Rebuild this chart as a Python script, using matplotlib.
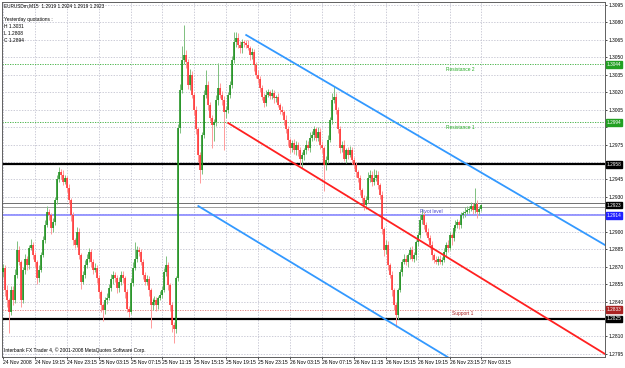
import numpy as np
import matplotlib as mpl
mpl.use('Agg')
from matplotlib import pyplot as plt
import matplotlib.transforms as mtransforms

mpl.rcParams.update({'font.family': ['Liberation Sans', 'DejaVu Sans'],
                     'font.size': 4})

# EURUSDm M15 closes (first bar 24 Nov 15:15)
first_open = 1.2865
closes = [
    1.2869, 1.2850, 1.2841, 1.2831, 1.2850, 1.2841, 1.2863, 1.2884, 1.2874, 1.2841,
    1.2867, 1.2877, 1.2871, 1.2886, 1.2889, 1.2880, 1.2874, 1.2860, 1.2867, 1.2880,
    1.2893, 1.2906, 1.2917, 1.2914, 1.2903, 1.2908, 1.2927, 1.2945, 1.2951, 1.2949,
    1.2943, 1.2946, 1.2938, 1.2927, 1.2914, 1.2893, 1.2889, 1.2900, 1.2880, 1.2857,
    1.2863, 1.2871, 1.2877, 1.2883, 1.2874, 1.2867, 1.2869, 1.2860, 1.2848, 1.2837,
    1.2833, 1.2841, 1.2843, 1.2852, 1.2859, 1.2863, 1.2860, 1.2852, 1.2857, 1.2863,
    1.2860, 1.2848, 1.2834, 1.2831, 1.2856, 1.2869, 1.2877, 1.2884, 1.2883, 1.2874,
    1.2863, 1.2857, 1.2859, 1.2850, 1.2837, 1.2840, 1.2841, 1.2837, 1.2843, 1.2846,
    1.2850, 1.2865, 1.2871, 1.2854, 1.2837, 1.2820, 1.2816, 1.2860, 1.2989, 1.3022,
    1.3048, 1.3052, 1.3046, 1.3026, 1.3035, 1.3018, 1.3005, 1.2988, 1.2966, 1.2953,
    1.2983, 1.3018, 1.3026, 1.3009, 1.2998, 1.2992, 1.2994, 1.3013, 1.3024, 1.3018,
    1.3013, 1.3003, 1.3005, 1.3018, 1.3026, 1.3048, 1.3063, 1.3067, 1.3061, 1.3058,
    1.3063, 1.3062, 1.3061, 1.3058, 1.3052, 1.3055, 1.3043, 1.3035, 1.3031, 1.3024,
    1.3016, 1.3011, 1.3018, 1.3020, 1.3017, 1.3019, 1.3015, 1.3016, 1.3009, 1.3005,
    1.3003, 1.2996, 1.2988, 1.2979, 1.2972, 1.2976, 1.2970, 1.2975, 1.2970, 1.2963,
    1.2966, 1.2970, 1.2975, 1.2972, 1.2981, 1.2983, 1.2988, 1.2981, 1.2986, 1.2975,
    1.2972, 1.2957, 1.2962, 1.2979, 1.2996, 1.3013, 1.3016, 1.3005, 1.2988, 1.2972,
    1.2975, 1.2963, 1.2970, 1.2966, 1.2970, 1.2962, 1.2957, 1.2951, 1.2946, 1.2936,
    1.2929, 1.2923, 1.2927, 1.2946, 1.2949, 1.2943, 1.2946, 1.2949, 1.2940, 1.2932,
    1.2902, 1.2884, 1.2889, 1.2871, 1.2863, 1.2850, 1.2837, 1.2828, 1.2850, 1.2865,
    1.2874, 1.2877, 1.2874, 1.2880, 1.2884, 1.2877, 1.2880, 1.2891, 1.2897, 1.2910,
    1.2914, 1.2906, 1.2900, 1.2895, 1.2889, 1.2880, 1.2876, 1.2874, 1.2877, 1.2874,
    1.2876, 1.2883, 1.2889, 1.2886, 1.2897, 1.2895, 1.2903, 1.2906, 1.2908, 1.2906,
    1.2914, 1.2916, 1.2917, 1.2919, 1.2920, 1.2922, 1.2919, 1.2924, 1.2917, 1.2920,
    1.2923,
]
# wick lengths in pips above / below the candle body
up_wick = [
    3, 2, 4, 2, 3, 3, 5, 8, 4, 2,
    3, 4, 2, 3, 5, 2, 3, 2, 4, 3,
    3, 4, 5, 3, 2, 4, 3, 4, 5, 3,
    4, 3, 2, 3, 2, 3, 2, 4, 3, 2,
    3, 5, 4, 3, 2, 3, 4, 2, 3, 2,
    2, 3, 4, 3, 5, 3, 2, 3, 4, 3,
    3, 2, 3, 2, 4, 5, 14, 4, 3, 2,
    3, 2, 4, 3, 2, 3, 4, 3, 2, 3,
    3, 4, 8, 3, 2, 3, 2, 2, 4, 5,
    12, 26, 4, 3, 5, 3, 2, 3, 2, 3,
    3, 4, 13, 4, 3, 2, 3, 5, 21, 4,
    3, 4, 3, 2, 4, 3, 9, 5, 4, 3,
    3, 2, 3, 4, 2, 3, 2, 3, 4, 3,
    2, 3, 4, 3, 2, 4, 3, 2, 3, 2,
    3, 2, 4, 3, 2, 3, 4, 3, 2, 3,
    3, 2, 4, 3, 5, 4, 3, 2, 4, 3,
    3, 2, 3, 4, 3, 6, 9, 3, 2, 3,
    3, 4, 2, 3, 4, 3, 2, 3, 2, 3,
    2, 3, 4, 5, 4, 3, 8, 4, 3, 2,
    3, 2, 4, 3, 2, 3, 2, 3, 2, 3,
    3, 4, 3, 2, 3, 4, 3, 2, 3, 5,
    6, 3, 2, 3, 2, 3, 2, 3, 2, 3,
    2, 3, 2, 4, 3, 2, 3, 4, 3, 2,
    3, 2, 4, 3, 2, 4, 3, 14, 3, 2, 1,
]
lo_wick = [
    4, 5, 6, 18, 3, 4, 2, 3, 3, 6,
    2, 3, 4, 3, 2, 3, 4, 5, 3, 2,
    2, 3, 2, 4, 5, 3, 2, 3, 2, 4,
    3, 2, 4, 3, 5, 4, 3, 2, 3, 6,
    2, 3, 2, 3, 4, 3, 2, 4, 5, 6,
    10, 4, 3, 2, 3, 4, 3, 5, 4, 3,
    4, 5, 3, 4, 2, 3, 2, 3, 4, 3,
    4, 3, 3, 5, 20, 4, 3, 5, 3, 2,
    3, 2, 3, 4, 5, 6, 12, 3, 2, 4,
    3, 4, 5, 3, 4, 3, 5, 4, 6, 11,
    3, 2, 3, 4, 3, 20, 14, 3, 4, 3,
    4, 33, 5, 3, 3, 2, 3, 4, 3, 4,
    4, 3, 3, 2, 4, 3, 5, 3, 3, 4,
    3, 4, 3, 2, 3, 3, 4, 3, 2, 4,
    3, 4, 3, 5, 4, 3, 3, 4, 5, 6,
    8, 4, 3, 2, 3, 3, 4, 3, 3, 4,
    4, 22, 4, 3, 2, 3, 2, 4, 3, 4,
    3, 2, 4, 3, 2, 4, 3, 4, 3, 4,
    3, 4, 3, 2, 3, 4, 3, 2, 3, 4,
    4, 5, 3, 4, 3, 5, 4, 10, 3, 2,
    3, 2, 3, 4, 3, 2, 3, 4, 3, 2,
    3, 4, 3, 2, 3, 4, 3, 2, 3, 2,
    3, 2, 5, 3, 2, 6, 3, 2, 3, 4,
    3, 2, 3, 2, 3, 2, 4, 3, 5, 3, 2,
]

time_labels = ["24 Nov 2008", "24 Nov 19:15", "24 Nov 23:15", "25 Nov 03:15",
               "25 Nov 07:15", "25 Nov 11:15", "25 Nov 15:15", "25 Nov 19:15",
               "25 Nov 23:15", "26 Nov 03:15", "26 Nov 07:15", "26 Nov 11:15",
               "26 Nov 15:15", "26 Nov 19:15", "26 Nov 23:15", "27 Nov 03:15"]
price_ticks = np.round(np.arange(1.2795, 1.30951, 0.0015), 4)

# pivot levels and channel lines (bar index, price)
resistance2 = 1.3044
resistance1 = 1.2994
pivot = 1.2914
support1 = 1.2833
black_levels = [1.2958, 1.2825]
bid_lines = [1.2925, 1.2921]
last_price = 1.2923
red_channel = ([113, 302], [1.29935, 1.27949])
blue_upper = ([122, 302], [1.30692, 1.28886])
blue_lower = ([98, 223], [1.29221, 1.27923])

pip = 0.0001
closes = np.array(closes)
opens = np.r_[first_open, closes[:-1]]
highs = np.maximum(opens, closes) + np.array(up_wick) * pip
lows = np.minimum(opens, closes) - np.array(lo_wick) * pip
idx = np.arange(len(closes))
bull = closes >= opens

fig = plt.figure(figsize=(6.25, 3.68), dpi=100)
ax = fig.add_axes([2 / 625, 11 / 368, 603 / 625, 355 / 368])
ax.set_xlim(-0.5, 302)
ax.set_ylim(1.27923, 1.30976)

# grid
for t in price_ticks:
    ax.axhline(t, color='#b8b8c8', lw=0.5, ls=(0, (2, 2)), zorder=0)
for k in range(len(time_labels)):
    ax.axvline(16 * k, color='#b8b8c8', lw=0.5, ls=(0, (2, 2)), zorder=0)

# levels
ax.axhline(resistance2, color='#33aa33', lw=0.6, ls=(0, (1.5, 1.5)), zorder=1)
ax.axhline(resistance1, color='#33aa33', lw=0.6, ls=(0, (1.5, 1.5)), zorder=1)
ax.axhline(support1, color='#dd7777', lw=0.6, ls=(0, (1.5, 1.5)), zorder=1)
ax.axhline(pivot, color='#8888ff', lw=1.2, zorder=1)
ax.axhline(bid_lines[0], color='#707070', lw=0.7, zorder=1)
ax.axhline(bid_lines[1], color='#a0a0a0', lw=0.7, zorder=1)
for lv in black_levels:
    ax.axhline(lv, color='black', lw=1.6, zorder=1)

# candles
ax.vlines(idx[bull], lows[bull], highs[bull], color='#7fc07f', lw=0.7, zorder=2)
ax.vlines(idx[~bull], lows[~bull], highs[~bull], color='#ff9a9a', lw=0.7, zorder=2)
ax.vlines(idx[bull], opens[bull], closes[bull], color='#128a12', lw=1.1, zorder=3)
ax.vlines(idx[~bull], opens[~bull], closes[~bull], color='#ff2a2a', lw=1.1, zorder=3)

# channel
ax.plot(*red_channel, color='#ff2020', lw=1.3, zorder=4)
ax.plot(*blue_upper, color='#3399ff', lw=1.3, zorder=4)
ax.plot(*blue_lower, color='#3399ff', lw=1.3, zorder=4)

# level names
ax.text(222, resistance2 - 0.0002, 'Resistance 2', color='#22aa22', fontsize=3.5, va='top')
ax.text(222, resistance1 - 0.0002, 'Resistance 1', color='#22aa22', fontsize=3.5, va='top')
ax.text(209, pivot + 0.0001, 'Pivot level', color='#4444cc', fontsize=3.5, va='bottom')
ax.text(225, support1 - 0.0001, 'Support 1', color='#aa2222', fontsize=3.5, va='top')

# header / info text
ax.text(0.003, 0.995, 'EURUSDm,M15  1.2919 1.2924 1.2919 1.2923', transform=ax.transAxes,
        fontsize=3.4, va='top')
info = ['Yesterday quotations :', 'H 1.3031', 'L 1.2808', 'C 1.2894']
for n, s in enumerate(info):
    ax.text(0.003, 0.958 - n * 0.02, s, transform=ax.transAxes, fontsize=3.5, va='top')
ax.text(0.003, 0.012, 'Interbank FX Trader 4, \u00a9 2001-2008 MetaQuotes Software Corp.',
        transform=ax.transAxes, fontsize=3.5, va='bottom')

# price boxes on the right scale
boxes = [(resistance2, '#22a022'), (resistance1, '#22a022'), (black_levels[0], 'black'),
         (last_price, 'black'), (pivot, '#2020ff'), (support1, '#aa2222'),
         (black_levels[1], 'black')]

# axes (tick labels hidden behind a price box are left out)
ax.yaxis.tick_right()
ax.set_yticks(price_ticks)
ax.set_yticklabels(['' if min(abs(t - v) for v, _ in boxes) < 0.00055 else f'{t:.4f}'
                    for t in price_ticks])
ax.set_xticks(16 * np.arange(len(time_labels)))
ax.set_xticklabels(time_labels, ha='left')
ax.tick_params(axis='x', length=1.5, width=0.5, pad=0.8, labelsize=3.6, colors='black')
ax.tick_params(axis='y', length=1.5, width=0.5, pad=0.8, labelsize=3.5, colors='black')
for sp in ax.spines.values():
    sp.set_color('#606060')
    sp.set_linewidth(0.7)

trans = mtransforms.blended_transform_factory(ax.transAxes, ax.transData)
for val, col in boxes:
    ax.text(1.003, val, f'{val:.4f}', transform=trans, fontsize=3.4, color='white',
            va='center', ha='left', zorder=6, clip_on=False,
            bbox=dict(boxstyle='square,pad=0.15', fc=col, ec=col))

fig.savefig('out.png', dpi=100)
